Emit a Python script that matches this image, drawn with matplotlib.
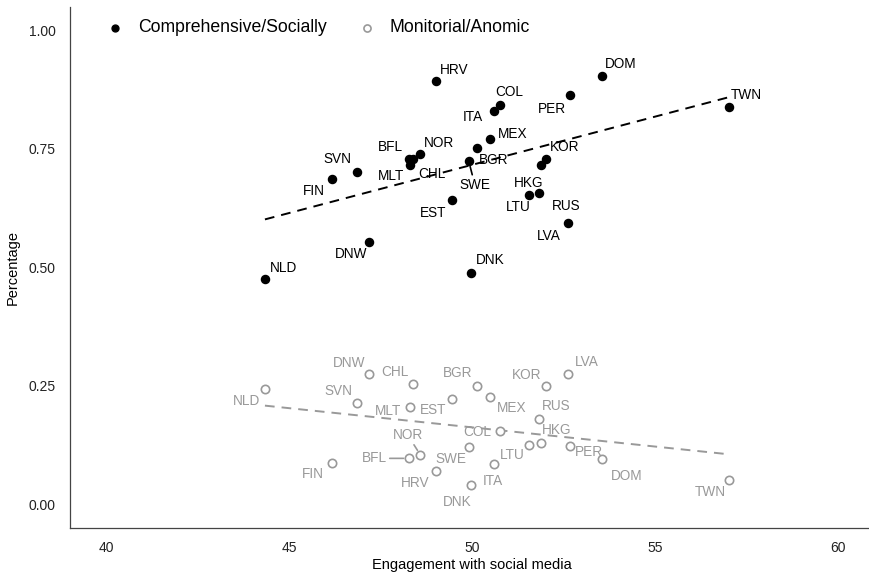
import numpy as np
import matplotlib
matplotlib.use('Agg')
import matplotlib.pyplot as plt

plt.rcParams['font.family'] = ['Liberation Sans', 'DejaVu Sans']

# dati
paesi = ['NLD', 'DNW', 'FIN', 'SVN', 'BFL', 'MLT', 'CHL', 'NOR', 'HRV', 'EST', 'SWE', 'DNK',
         'BGR', 'MEX', 'ITA', 'COL', 'LTU', 'RUS', 'HKG', 'KOR', 'LVA', 'PER', 'DOM', 'TWN']
engagement = [44.34, 47.19, 46.16, 46.86, 48.28, 48.31, 48.39, 48.59, 49.02, 49.45, 49.91, 49.97,
              50.14, 50.50, 50.61, 50.75, 51.56, 51.83, 51.88, 52.01, 52.63, 52.67, 53.55, 57.01]
comprensivo = [0.475, 0.553, 0.687, 0.702, 0.729, 0.715, 0.728, 0.739, 0.894, 0.642, 0.724, 0.488,
               0.752, 0.771, 0.831, 0.842, 0.653, 0.656, 0.717, 0.729, 0.594, 0.863, 0.904, 0.838]
monitoriale = [0.244, 0.274, 0.088, 0.214, 0.097, 0.205, 0.254, 0.104, 0.070, 0.223, 0.122, 0.041,
               0.250, 0.226, 0.086, 0.155, 0.126, 0.181, 0.130, 0.249, 0.276, 0.123, 0.095, 0.052]

etichette_serie = ['Comprehensive/Socially', 'Monitorial/Anomic']
x_ticks = [40, 45, 50, 55, 60]
y_ticks = [0.00, 0.25, 0.50, 0.75, 1.00]

# spostamento etichette (pixel: destra, giu')
off_nero = [(18.6, -11.7), (-18.3, 12), (-18, 12), (-19.7, -12.3), (-19, -12), (-19.6, 10.7),
            (18.3, 14.7), (19, -11), (18, -11), (-19, 12.6), (6, 23.3), (19, -13),
            (16.3, 11.7), (22, -4.6), (-21.3, 6), (9.4, -13.4), (-10.7, 12.6), (26.7, 12.7),
            (-12, 18), (19.3, -11.6), (-19, 13), (-18, 13.6), (18.7, -12), (18, -12.3)]
off_grigio = [(-18.6, 12), (-19.7, -11.7), (-18.6, 11), (-18.3, -12), (-34.7, 0), (-22, 3.4),
              (-18.7, -11.7), (-12.7, -20), (-21, 12.3), (-19, 11.7), (-17.4, 12), (-13.7, 17.3),
              (-19.3, -12.6), (21.7, 10.4), (-1.7, 17.4), (-22, 1), (-17.3, 10.7), (17, -12.7),
              (16, -12.6), (-19, -11.7), (19, -11.4), (19.6, 5.6), (24.7, 16.7), (-18.7, 12.7)]
segm_nero = ['SWE']
segm_grigio = ['BFL', 'NOR']

nero = 'black'
grigio = '#999999'

x = np.array(engagement)

fig = plt.figure(figsize=(8.7, 5.76), dpi=100)
ax = fig.add_axes([0.0799, 0.0833, 0.9254, 0.9050])

for yv, col, stile in [(comprensivo, nero, (5.0, 3.6)), (monitoriale, grigio, (5.0, 3.6))]:
    m, q = np.polyfit(x, np.array(yv), 1)
    xx = np.array([x.min(), x.max()])
    ax.plot(xx, m * xx + q, color=col, lw=1.4, dashes=stile, zorder=2)

sc1 = ax.scatter(engagement, comprensivo, s=34, color=nero, zorder=3, label=etichette_serie[0])
sc2 = ax.scatter(engagement, monitoriale, s=36, facecolors='white', edgecolors=grigio,
                 linewidths=1.2, zorder=3, label=etichette_serie[1])

for i, p in enumerate(paesi):
    for yv, off, col, segm in [(comprensivo, off_nero, nero, segm_nero),
                               (monitoriale, off_grigio, grigio, segm_grigio)]:
        ap = None
        if p in segm:
            ap = dict(arrowstyle='-', color=col, lw=1.2, shrinkA=0, shrinkB=4)
        ax.annotate(p, (engagement[i], yv[i]), xytext=(off[i][0], -off[i][1]),
                    textcoords='offset pixels', ha='center', va='center',
                    fontsize=9.8, color=col, arrowprops=ap, zorder=4)

ax.set_xlim(39, 61)
ax.set_ylim(-0.05, 1.05)
ax.set_xticks(x_ticks)
ax.set_yticks(y_ticks)
ax.set_yticklabels([f'{v:.2f}' for v in y_ticks])
ax.tick_params(length=0, labelsize=10, colors='#222222')
ax.tick_params(axis='y', pad=10)
ax.tick_params(axis='x', pad=9)
for s in ['top', 'right']:
    ax.spines[s].set_visible(False)
for s in ['left', 'bottom']:
    ax.spines[s].set_color('#444444')
    ax.spines[s].set_linewidth(0.9)

ax.set_xlabel('Engagement with social media', fontsize=10.5, labelpad=2.5)
ax.set_ylabel('Percentage', fontsize=10.5, labelpad=6)

ax.legend(handles=[sc1, sc2], loc='center left', bbox_to_anchor=(108 / 870, 1 - 28 / 576),
          bbox_transform=fig.transFigure, ncol=2, frameon=False, fontsize=12.7,
          handlelength=0.8, handletextpad=0.9, columnspacing=1.87, borderpad=0,
          borderaxespad=0, markerscale=0.85)

fig.savefig('out.png', dpi=100)
